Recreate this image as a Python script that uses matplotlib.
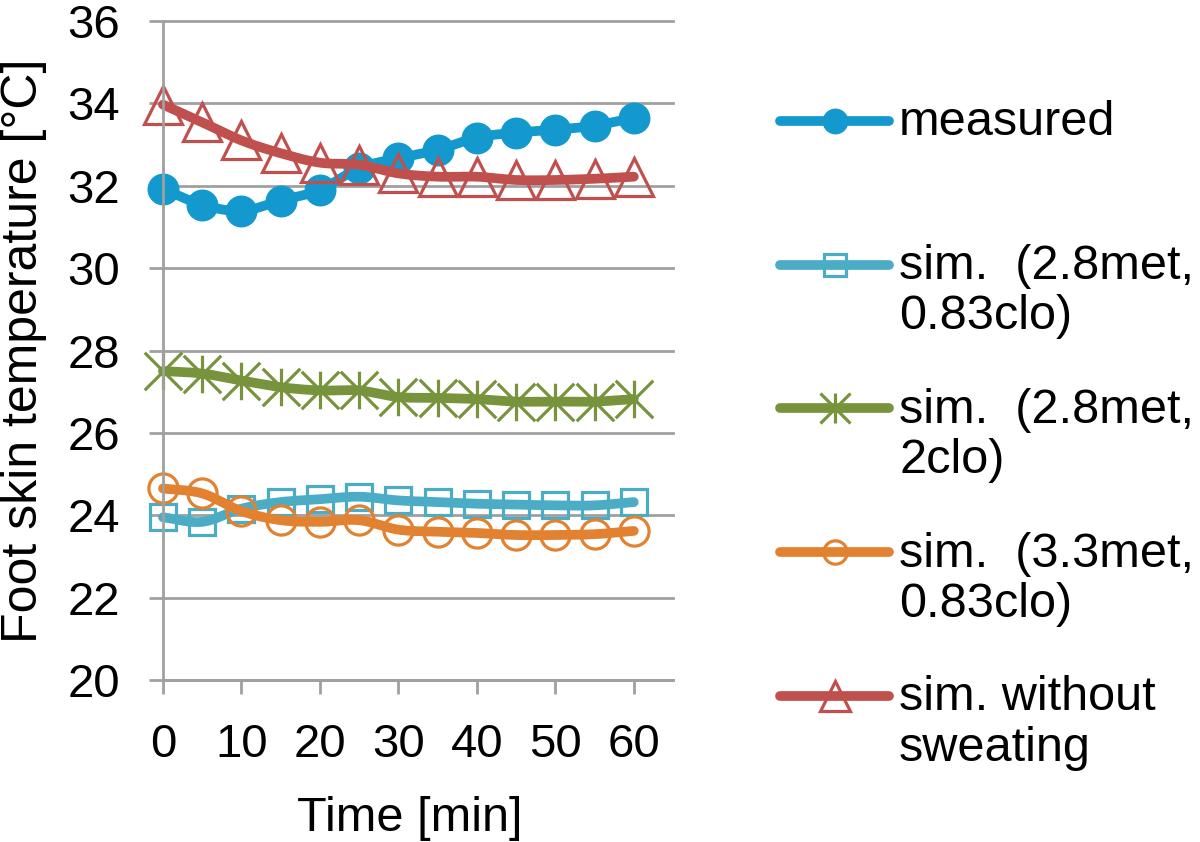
import numpy as np
import matplotlib
matplotlib.use('Agg')
from matplotlib import pyplot as plt
from matplotlib.lines import Line2D
from matplotlib.path import Path

plt.rcParams['font.family'] = ['Liberation Sans', 'DejaVu Sans']

# values
time_min = [0, 5, 10, 15, 20, 25, 30, 35, 40, 45, 50, 55, 60]
measured = [31.92, 31.54, 31.39, 31.64, 31.90, 32.43, 32.67, 32.87, 33.17, 33.29, 33.36, 33.46, 33.65]
sim_28met_083clo = [23.95, 23.84, 24.16, 24.32, 24.39, 24.45, 24.36, 24.32, 24.28, 24.26, 24.24, 24.24, 24.32]
sim_28met_2clo = [27.50, 27.44, 27.27, 27.11, 27.03, 27.03, 26.87, 26.85, 26.82, 26.76, 26.76, 26.76, 26.82]
sim_33met_083clo = [24.65, 24.53, 24.10, 23.88, 23.84, 23.88, 23.65, 23.60, 23.57, 23.52, 23.52, 23.54, 23.62]
sim_no_sweat = [33.97, 33.54, 33.10, 32.79, 32.56, 32.51, 32.30, 32.22, 32.22, 32.14, 32.14, 32.17, 32.22]

labels = ['measured\n', 'sim.  (2.8met,\n0.83clo)', 'sim.  (2.8met,\n2clo)',
          'sim.  (3.3met,\n0.83clo)', 'sim. without\nsweating']
x_ticks = [0, 10, 20, 30, 40, 50, 60]
y_ticks = [20, 22, 24, 26, 28, 30, 32, 34, 36]

# asterisk marker like excel's (x plus vertical bar)
star = Path([(-1, -1), (1, 1), (-1, 1), (1, -1), (0, -1), (0, 1)],
            [Path.MOVETO, Path.LINETO, Path.MOVETO, Path.LINETO, Path.MOVETO, Path.LINETO])


def smooth(x, y, n=16):
    # catmull-rom curve through the points, close to excel's smoothed line
    x = np.asarray(x, float)
    y = np.asarray(y, float)
    px = np.concatenate([[2*x[0]-x[1]], x, [2*x[-1]-x[-2]]])
    py = np.concatenate([[2*y[0]-y[1]], y, [2*y[-1]-y[-2]]])
    t = np.linspace(0, 1, n, endpoint=False)
    xs, ys = [], []
    for i in range(1, len(px)-2):
        for p, out in ((px, xs), (py, ys)):
            p0, p1, p2, p3 = p[i-1], p[i], p[i+1], p[i+2]
            out.extend(0.5*(2*p1 + (-p0+p2)*t + (2*p0-5*p1+4*p2-p3)*t**2
                            + (-p0+3*p1-3*p2+p3)*t**3))
    xs.append(x[-1])
    ys.append(y[-1])
    return xs, ys


series = [
    (measured, '#1499CE', dict(marker='o', ms=22, mfc='#1499CE', mec='#1499CE', mew=1)),
    (sim_28met_083clo, '#4BACC6', dict(marker='s', ms=19, mfc='none', mec='#4BACC6', mew=2.3)),
    (sim_28met_2clo, '#77933C', dict(marker=star, ms=27, mfc='none', mec='#77933C', mew=2.3)),
    (sim_33met_083clo, '#E2812F', dict(marker='o', ms=21, mfc='none', mec='#E2812F', mew=2.3)),
    (sim_no_sweat, '#C0504D', dict(marker='^', ms=27, mfc='none', mec='#C0504D', mew=2.3)),
]

fig = plt.figure(figsize=(12, 8.42), dpi=100)
ax = fig.add_axes([163/1200, 1-680/842, 510/1200, 659/842])

handles = []
for vals, col, mk in series:
    sx, sy = smooth(time_min, vals)
    ax.plot(sx, sy, color=col, lw=7, solid_capstyle='round', clip_on=False)
    ax.plot(time_min, vals, ls='none', clip_on=False, **mk)
    handles.append(Line2D([], [], color=col, lw=7, solid_capstyle='round', **mk))

ax.set_xlim(0, 65)
ax.set_ylim(20, 36)
ax.set_xticks(x_ticks)
ax.set_yticks(y_ticks)
grid_col = '#A0A0A0'
ax.grid(axis='y', color=grid_col, lw=2)
ax.set_axisbelow(True)
for gl in ax.get_ygridlines():
    gl.set_clip_on(False)
for s in ['top', 'right']:
    ax.spines[s].set_visible(False)
for s in ['left', 'bottom']:
    ax.spines[s].set_color(grid_col)
    ax.spines[s].set_linewidth(2)
ax.tick_params(axis='both', direction='out', length=10, width=2, color=grid_col,
               labelsize=34, pad=21)

ax.set_xlabel('Time [min]', fontsize=35)
ax.xaxis.set_label_coords(0.484, -0.176)
ax.xaxis.label.set_va('top')
ax.set_ylabel('Foot skin temperature [°C]', fontsize=36)
ax.yaxis.set_label_coords(-0.2275, 0.5)

leg = ax.legend(handles, labels, loc='upper left', bbox_to_anchor=(780/1200, 1-100/842),
                bbox_transform=fig.transFigure, frameon=False, fontsize=35,
                handlelength=2.25, handletextpad=0.2, handleheight=1.2,
                borderpad=0, borderaxespad=0, labelspacing=1.0, markerscale=0.8)
for t in leg.get_texts():
    t.set_linespacing(1.15)
# put the key beside the first line of each label
for col in leg._legend_handle_box.get_children():
    for row in col.get_children():
        row.align = 'top'

fig.savefig('out.png', dpi=100)
